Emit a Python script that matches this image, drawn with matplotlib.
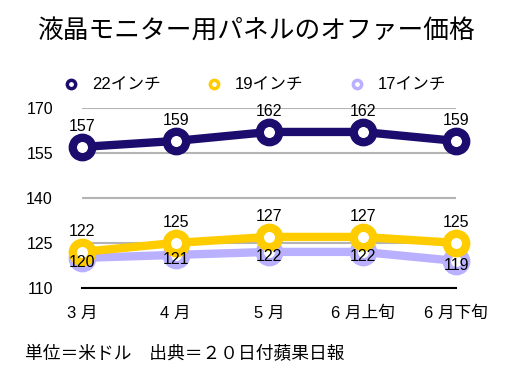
import matplotlib.pyplot as plt
from matplotlib.lines import Line2D

plt.rcParams['font.family'] = ['Liberation Sans', 'Noto Sans CJK JP']

months = ['3 月', '4 月', '5 月', '6 月上旬', '6 月下旬']
p22 = [157, 159, 162, 162, 159]
p19 = [122, 125, 127, 127, 125]
p17 = [120, 121, 122, 122, 119]
yticks = [110, 125, 140, 155, 170]

c22 = '#1b0c6e'
c19 = '#ffcc00'
c17 = '#b9b0ff'

fig = plt.figure(figsize=(5.13, 3.71), dpi=100)
ax = fig.add_axes([0.16, 0.224, 0.729, 0.485])

x = range(len(months))

def draw(vals, col, z):
    ax.plot(x, vals, color=col, lw=6, marker='o', ms=14, mfc='white',
            mec=col, mew=6, zorder=z, clip_on=False, solid_capstyle='round')

draw(p17, c17, 3)
draw(p19, c19, 4)
draw(p22, c22, 5)

for i in x:
    ax.annotate(str(p22[i]), (i, p22[i]), xytext=(0, 11.5), textcoords='offset points',
                ha='center', va='baseline', fontsize=11.5, zorder=10)
    ax.annotate(str(p19[i]), (i, p19[i]), xytext=(0, 11.5), textcoords='offset points',
                ha='center', va='baseline', fontsize=11.5, zorder=10)
    ax.annotate(str(p17[i]), (i, p17[i]), xytext=(0, -3.5), textcoords='offset points',
                ha='center', va='center', fontsize=11.5, zorder=10)

ax.set_xlim(0, len(months) - 1)
ax.set_ylim(110, 170)
ax.set_yticks(yticks)
ax.set_xticks(list(x))
ax.set_xticklabels(months, fontsize=12)
ax.tick_params(length=0)
ax.tick_params(axis='y', pad=21, labelsize=11.5)
ax.tick_params(axis='x', pad=13)
for s in ['top', 'right', 'left']:
    ax.spines[s].set_visible(False)
ax.spines['bottom'].set_color('black')
ax.spines['bottom'].set_linewidth(1.5)
ax.grid(axis='y', color='#b4b4b4', lw=1.5)
ax.set_axisbelow(True)

handles = [Line2D([], [], ls='none', marker='o', ms=6, mfc='white', mec=c, mew=2.5)
           for c in (c22, c19, c17)]
fig.legend(handles, ['22インチ', '19インチ', '17インチ'], ncol=3, frameon=False,
           loc='center', bbox_to_anchor=(0.496, 0.771), fontsize=12,
           handlelength=1.0, handletextpad=0.76, columnspacing=2.7)

fig.text(0.5, 0.915, '液晶モニター用パネルのオファー価格', ha='center', va='center',
         fontsize=18.5)
fig.text(0.049, 0.045, '単位＝米ドル　出典＝２０日付蘋果日報', ha='left', va='center',
         fontsize=12.8)

fig.savefig('out.png', dpi=100)
